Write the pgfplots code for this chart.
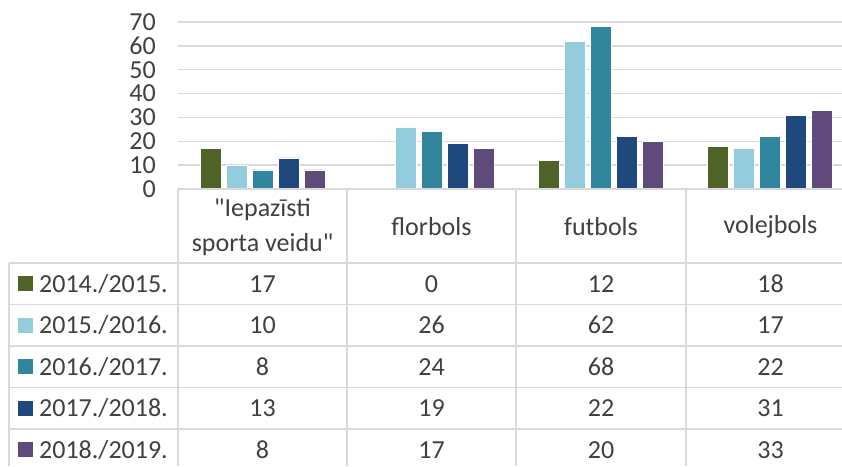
\documentclass[border=0pt]{standalone}
\usepackage{pgfplots}
\pgfplotsset{compat=1.18}
\usepackage{fontspec}
\setmainfont{Carlito}[Ligatures=TeXOff]
\definecolor{txt}{HTML}{404040}
\definecolor{gridc}{HTML}{D9D9D9}
\definecolor{cA}{HTML}{4F6228}
\definecolor{cB}{HTML}{93CDDD}
\definecolor{cC}{HTML}{31859C}
\definecolor{cD}{HTML}{1F497D}
\definecolor{cE}{HTML}{604A7B}
\begin{document}
\fontsize{26}{30}\selectfont
\begin{tikzpicture}[x=1pt,y=1pt]
\path[use as bounding box,clip] (0,0) rectangle (842,466);
\begin{axis}[
  at={(178pt,277pt)}, anchor=south west,
  scale only axis, width=664pt, height=167pt,
  xmin=-0.5, xmax=3.4290, ymin=0, ymax=70,
  ybar=5pt, bar width=21pt,
  axis line style={draw=none},
  ytick={0,10,...,70}, xtick=\empty,
  ymajorgrids, grid style={gridc, line width=1.4pt},
  major tick length=0pt,
  /pgf/number format/assume math mode=true,
  yticklabel style={anchor=east, inner sep=0pt, xshift=-22pt, text=txt, font=\fontsize{26}{30}\selectfont},
  clip=false,
  every axis plot/.append style={draw=white, line width=0.6pt},
]
\addplot[fill=cA] coordinates {(0,17) (1,0) (2,12) (3,18)};
\addplot[fill=cB] coordinates {(0,10) (1,26) (2,62) (3,17)};
\addplot[fill=cC] coordinates {(0,8) (1,24) (2,68) (3,22)};
\addplot[fill=cD] coordinates {(0,13) (1,19) (2,22) (3,31)};
\addplot[fill=cE] coordinates {(0,8) (1,17) (2,20) (3,33)};
\end{axis}
% data table
\begin{scope}[gridc, line width=1.5pt]
\draw (178,277) -- (842,277);
\foreach \yy in {203, 161.5, 120, 78.5, 37} \draw (9,\yy) -- (842,\yy);
\foreach \xx in {178,347,516,686} \draw (\xx,277) -- (\xx,0);
\draw (9,203) -- (9,0);
\end{scope}
\begin{scope}[text=txt, font=\fontsize{26}{30}\selectfont]
\node[align=center, text=txt, font=\fontsize{26}{35}\selectfont] at (262.5,239) {"Iepazīsti\\sporta veidu"};
\node at (431.5,239) {florbols};
\node at (601,239) {futbols};
\node at (770.5,239) {volejbols};
\foreach \lab/\col/\a/\b/\c/\d [count=\i] in {{2014./2015.}/cA/17/0/12/18, {2015./2016.}/cB/10/26/62/17, {2016./2017.}/cC/8/24/68/22, {2017./2018.}/cD/13/19/22/31, {2018./2019.}/cE/8/17/20/33} {
  \pgfmathsetmacro{\yc}{203-41.5*(\i-1)-20.75}
  \fill[\col] (18,\yc-7.5) rectangle (33,\yc+7.5);
  \node[anchor=west, inner sep=0pt] at (39,\yc) {\lab};
  \node at (262.5,\yc) {\a};
  \node at (431.5,\yc) {\b};
  \node at (601,\yc) {\c};
  \node at (770.5,\yc) {\d};
}
\end{scope}
\end{tikzpicture}
\end{document}
